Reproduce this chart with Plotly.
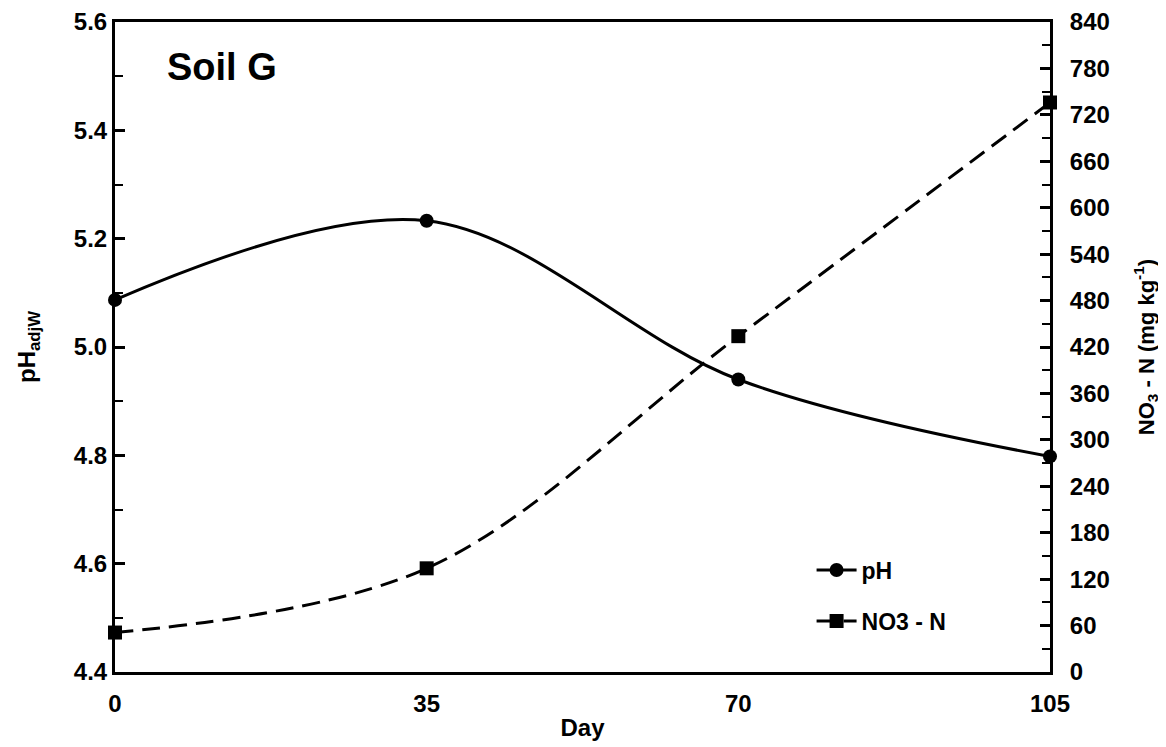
import plotly.graph_objects as go

days = [0, 35, 70, 105]
ph = [5.087, 5.233, 4.940, 4.798]
no3 = [51, 134, 434, 736]

FONT = "Liberation Sans, Arial, sans-serif"

fig = go.Figure()
fig.add_trace(go.Scatter(
    x=days, y=ph, name="pH", mode="lines+markers",
    line=dict(color="black", width=3, shape="spline", smoothing=1.0),
    marker=dict(symbol="circle", size=14, color="black"),
    cliponaxis=False, yaxis="y", legend="legend"))
fig.add_trace(go.Scatter(
    x=days, y=no3, name="NO3 - N", mode="lines+markers",
    line=dict(color="black", width=3, dash="18px,9px", shape="spline", smoothing=1.0),
    marker=dict(symbol="square", size=14, color="black"),
    cliponaxis=False, yaxis="y2", legend="legend2"))

leg_common = dict(xanchor="left", yanchor="middle", bgcolor="rgba(0,0,0,0)",
                  font=dict(size=23, weight="bold", family=FONT), itemwidth=40)

fig.update_layout(
    width=1158, height=739,
    margin=dict(l=107, r=116, t=14, b=75),
    paper_bgcolor="white", plot_bgcolor="white",
    font=dict(family=FONT, size=22, color="black", weight="bold"),
    showlegend=True,
    legend=dict(x=0.745, y=(672 - 570) / 650, **leg_common),
    legend2=dict(x=0.745, y=(672 - 621) / 650, **leg_common),
    xaxis=dict(range=[0, 105], tickvals=days, ticktext=["0", "35", "70", "105"],
               showline=True, linecolor="black", linewidth=3, mirror=True,
               ticks="", showgrid=False, zeroline=False, automargin=False,
               ticklabelstandoff=8,
               tickfont=dict(size=24, weight="bold"),
               title=dict(text="Day", font=dict(size=24, weight="bold"), standoff=4)),
    yaxis=dict(range=[4.4, 5.6], dtick=0.2, tickformat=".1f", automargin=False,
               showline=True, linecolor="black", linewidth=3,
               ticks="inside", ticklen=10, tickwidth=3, tickcolor="black",
               minor=dict(dtick=0.1, ticks="inside", ticklen=8, tickwidth=2, tickcolor="black"),
               showgrid=False, zeroline=False,
               tickfont=dict(size=24, weight="bold"),
               title=dict(text="pH<sub>adjW</sub>", font=dict(size=24, weight="bold"), standoff=32)),
    yaxis2=dict(range=[0, 840], dtick=60, overlaying="y", side="right", automargin=False,
                showline=True, linecolor="black", linewidth=3,
                ticks="inside", ticklen=10, tickwidth=3, tickcolor="black",
                minor=dict(dtick=30, ticks="inside", ticklen=8, tickwidth=2, tickcolor="black"),
                showgrid=False, zeroline=False, ticklabelstandoff=12,
                tickfont=dict(size=24, weight="bold"),
                title=dict(text="NO<sub>3</sub> - N (mg kg<sup>-1</sup>)", font=dict(size=22, weight="bold"), standoff=30)),
    annotations=[dict(text="Soil G", x=0.053, y=0.93, xref="paper", yref="paper",
                      xanchor="left", yanchor="middle", showarrow=False,
                      font=dict(size=38, weight="bold", family=FONT))],
)

fig.write_html("out.html")
